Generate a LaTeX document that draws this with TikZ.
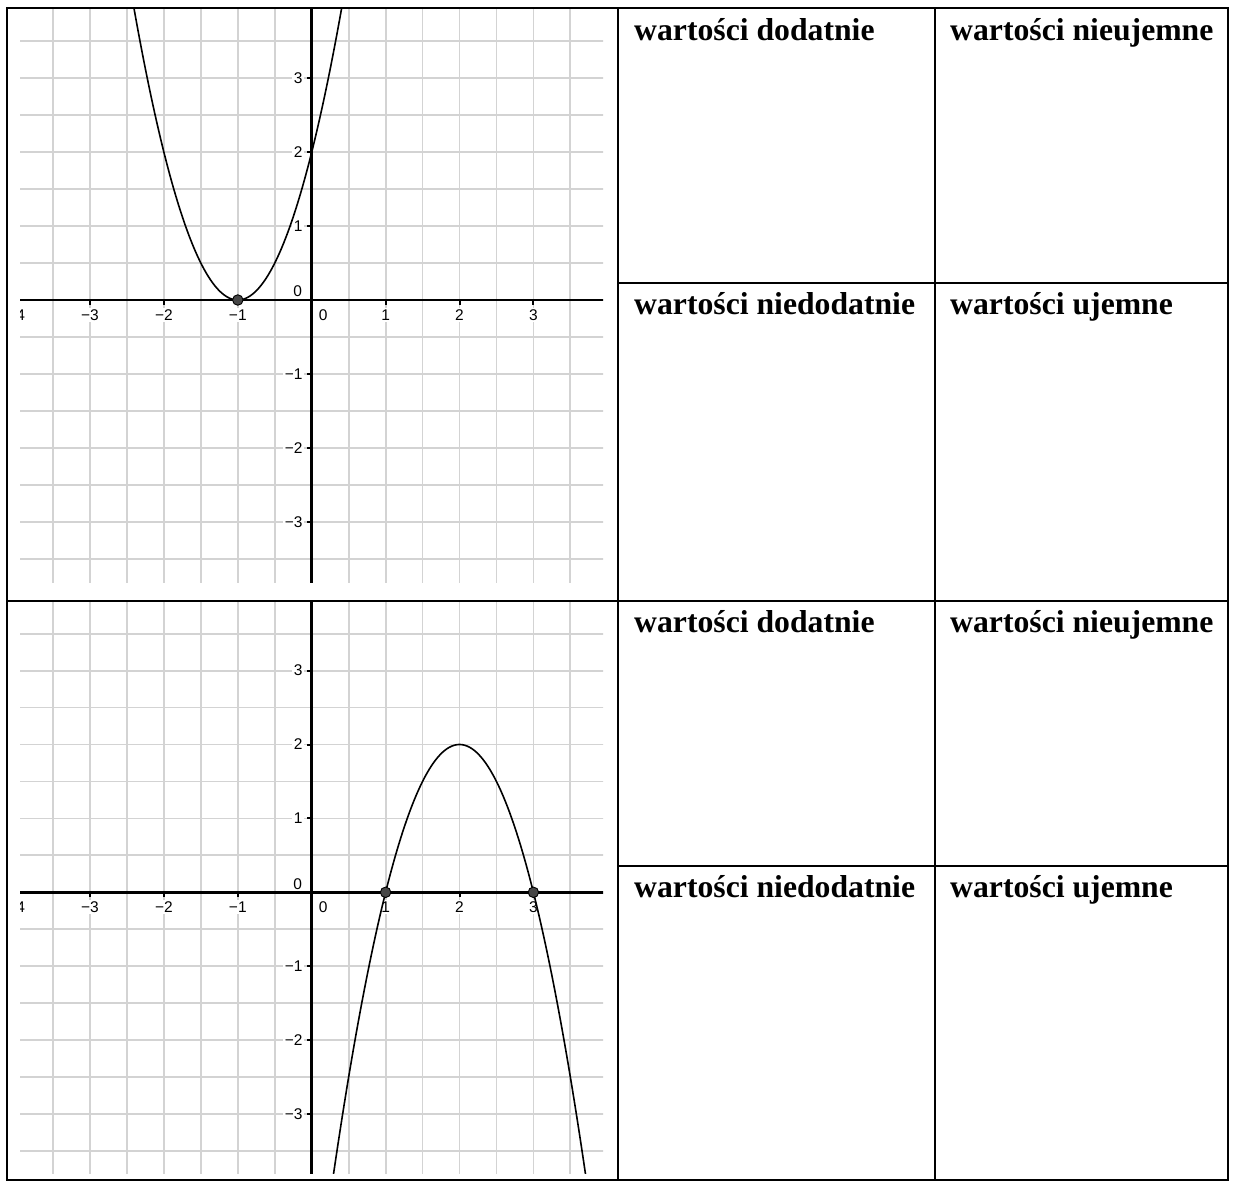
\documentclass[tikz,border=0pt]{standalone}
\usepackage{fontspec}
\setmainfont{Liberation Serif}
\newfontfamily\axfont{Liberation Sans}
\definecolor{gridgray}{RGB}{211,211,211}
\definecolor{ptgray}{RGB}{70,70,70}
\newcommand\mygridaxes[1]{%
  \foreach \gx in {-3.5,-3,-2.5,-2,-1.5,-1,-0.5,0.5,1,1.5,2,2.5,3,3.5}
    \draw[gridline] (\gx,-4.2) -- (\gx,4.2);
  \foreach \gy in {-3.5,-3,-2.5,-2,-1.5,-1,-0.5,0.5,1,1.5,2,2.5,3,3.5}
    \draw[gridline] (-4.2,\gy) -- (4.2,\gy);
  \foreach \v/\t in {-4/−4,-3/−3,-2/−2,-1/−1,1/1,2/2,3/3}
    \node[ticklabel, yshift=-15pt] (#1x\v) at (\v,0) {\t};
  \foreach \v/\t in {-3/−3,-2/−2,-1/−1,1/1,2/2,3/3}
    \node[ticklabel, anchor=east, xshift=-7.5pt] (#1y\v) at (0,\v) {\t};
  \node[ticklabel, xshift=-14pt, yshift=8.5pt] (#1oy) at (0,0) {0};
  \node[ticklabel, xshift=11.5pt, yshift=-15pt] (#1ox) at (0,0) {0};
  \draw[axisline] (-4.2,0) -- (4.2,0);
  \draw[axisline] (0,-4.2) -- (0,4.2);
  \foreach \v in {-3,-2,-1,1,2,3} {
    \draw[tickline] (\v,0) -- ++(0,-5pt);
    \draw[tickline] (0,\v) -- ++(-5pt,0);
  }
}
\begin{document}
\begin{tikzpicture}[x=1pt,y=-1pt,
  tablerule/.style={line width=2pt, black},
  gridline/.style={line width=1.8pt, color=gridgray},
  axisline/.style={line width=2.7pt, black},
  tickline/.style={line width=2pt, black},
  curveline/.style={line width=1.6pt, black},
  ticklabel/.style={font=\axfont\fontsize{15.5}{18}\selectfont, fill=white, inner sep=1.5pt},
  cellhead/.style={font=\bfseries\fontsize{31.7}{38}\selectfont, anchor=base west, inner sep=0pt},
  zeropt/.style={circle, fill=ptgray, draw=black, line width=0.9pt, minimum size=10.5pt, inner sep=0pt}
]
\useasboundingbox[fill=white] (0,0) rectangle (1234,1184);

% ---- graph 1 ----
\begin{scope}[shift={(311.7,300)}, x=73.9pt, y=73.9pt]
  \clip (-3.947,-3.816) rectangle (3.942,3.951);
  \mygridaxes{a}
  \draw[curveline, domain=-2.5:0.5, samples=120] plot (\x, {2*(\x+1)^2});
  \node[zeropt] (ap1) at (-1,0) {};
\end{scope}

% ---- graph 2 ----
\begin{scope}[shift={(311.7,892.3)}, x=73.9pt, y=73.9pt]
  \clip (-3.947,-3.80) rectangle (3.942,3.955);
  \mygridaxes{b}
  \draw[curveline, domain=0.2:3.8, samples=120] plot (\x, {-2*(\x-2)^2+2});
  \node[zeropt] (bp1) at (1,0) {};
  \node[zeropt] (bp3) at (3,0) {};
\end{scope}

% ---- table ----
\coordinate (tl) at (7,8);
\coordinate (br) at (1228,1180);
\draw[tablerule] (tl) rectangle (br);
\draw[tablerule] (617.7,8) -- (617.7,1180);
\draw[tablerule] (935,8) -- (935,1180);
\draw[tablerule] (7,600.5) -- (1228,600.5);
\draw[tablerule] (617.7,282.7) -- (1228,282.7);
\draw[tablerule] (617.7,866) -- (1228,866);

% ---- cell headings ----
\node[cellhead] (r1a) at (634,40) {wartości dodatnie};
\node[cellhead] (r1b) at (950,40) {wartości nieujemne};
\node[cellhead] (r1c) at (634,314) {wartości niedodatnie};
\node[cellhead] (r1d) at (950,314) {wartości ujemne};
\node[cellhead] (r2a) at (634,632) {wartości dodatnie};
\node[cellhead] (r2b) at (950,632) {wartości nieujemne};
\node[cellhead] (r2c) at (634,897) {wartości niedodatnie};
\node[cellhead] (r2d) at (950,897) {wartości ujemne};
\end{tikzpicture}
\end{document}
